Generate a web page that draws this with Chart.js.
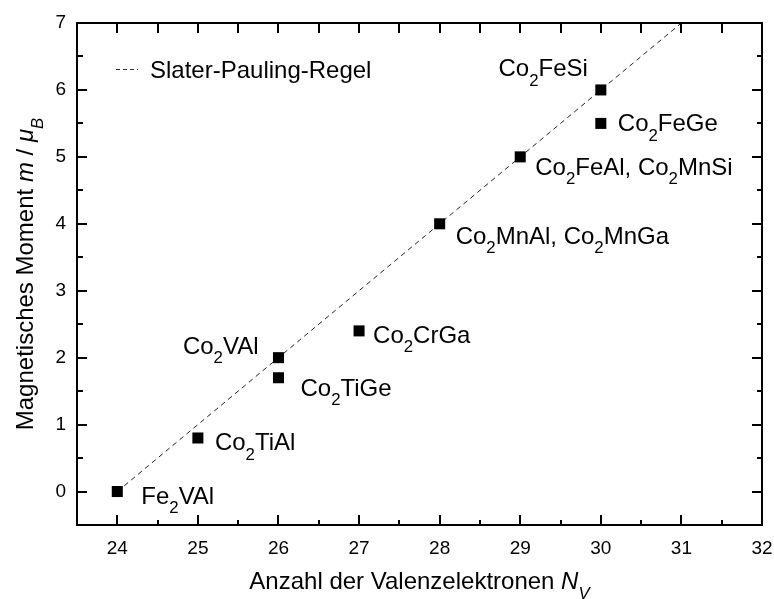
<!DOCTYPE html>
<html>
<head>
<meta charset="utf-8">
<script src="https://cdn.jsdelivr.net/npm/chart.js@4.4.1/dist/chart.umd.min.js"></script>
<style>
  html, body { margin: 0; padding: 0; background: #fff; }
  #wrap { width: 774px; height: 599px; }
</style>
</head>
<body>
<div id="wrap"><canvas id="chart" width="774" height="599"></canvas></div>
<script>
// Heusler compounds: valence electron count vs. magnetic moment
const valenceElectrons = [24, 25, 26, 26, 27, 28, 29, 30, 30];
const magneticMoment   = [0, 0.8, 2, 1.7, 2.4, 4, 5, 6, 5.5];
const compounds = [
  'Fe_2VAl', 'Co_2TiAl', 'Co_2VAl', 'Co_2TiGe', 'Co_2CrGa',
  'Co_2MnAl, Co_2MnGa', 'Co_2FeAl, Co_2MnSi', 'Co_2FeSi', 'Co_2FeGe'
];

// Slater-Pauling rule m = N_V - 24
const slaterPaulingX = [24, 31];
const slaterPaulingY = [0, 7];
const slaterPaulingLabel = 'Slater-Pauling-Regel';

const xTicks = [24, 25, 26, 27, 28, 29, 30, 31, 32];
const yTicks = [0, 1, 2, 3, 4, 5, 6, 7];

// where each compound name sits relative to its marker (px)
const labelPlacement = [
  { dx: 24, dy: 12, align: 'left' },
  { dx: 17, dy: 12, align: 'left' },
  { dx: -20, dy: -4, align: 'right' },
  { dx: 22, dy: 18, align: 'left' },
  { dx: 14, dy: 12, align: 'left' },
  { dx: 16, dy: 20, align: 'left' },
  { dx: 15, dy: 18, align: 'left' },
  { dx: -13, dy: -14, align: 'right' },
  { dx: 17, dy: 8, align: 'left' }
];

const FONT = '"Liberation Sans", Arial, Helvetica, sans-serif';

// "Co_2FeAl" -> runs with the char after "_" as subscript
function parseFormula(str) {
  const parts = str.split(/_(.)/);
  return parts.map((t, i) => ({ t, sub: i % 2 === 1 }));
}

function runFont(r, size) {
  const s = r.sub ? size * 0.7 : size;
  return (r.it ? 'italic ' : '') + s + 'px ' + FONT;
}

function drawRuns(ctx, runs, x, y, align, size) {
  let total = 0;
  runs.forEach(r => { ctx.font = runFont(r, size); total += ctx.measureText(r.t).width; });
  let cx = x;
  if (align === 'right') cx = x - total;
  else if (align === 'center') cx = x - total / 2;
  ctx.textAlign = 'left';
  ctx.textBaseline = 'alphabetic';
  runs.forEach(r => {
    ctx.font = runFont(r, size);
    ctx.fillText(r.t, cx, r.sub ? y + size * 0.4 : y);
    cx += ctx.measureText(r.t).width;
  });
}

const decorations = {
  id: 'decorations',
  afterDraw(chart) {
    const ctx = chart.ctx;
    const a = chart.chartArea;
    const xs = chart.scales.x, ys = chart.scales.y;
    ctx.save();
    ctx.strokeStyle = '#000';
    ctx.fillStyle = '#000';
    ctx.lineWidth = 2;
    ctx.setLineDash([]);
    ctx.strokeRect(a.left, a.top, a.right - a.left, a.bottom - a.top);

    // inward ticks, majors and halfway minors
    ctx.beginPath();
    xTicks.forEach((v, i) => {
      const px = Math.round(xs.getPixelForValue(v));
      ctx.moveTo(px, a.bottom); ctx.lineTo(px, a.bottom - 10);
      ctx.moveTo(px, a.top); ctx.lineTo(px, a.top + 10);
      if (i < xTicks.length - 1) {
        const m = Math.round(xs.getPixelForValue((v + xTicks[i + 1]) / 2));
        ctx.moveTo(m, a.bottom); ctx.lineTo(m, a.bottom - 5);
        ctx.moveTo(m, a.top); ctx.lineTo(m, a.top + 10);
      }
    });
    yTicks.forEach((v, i) => {
      const py = Math.round(ys.getPixelForValue(v));
      ctx.moveTo(a.left, py); ctx.lineTo(a.left + 10, py);
      ctx.moveTo(a.right, py); ctx.lineTo(a.right - 10, py);
      if (i < yTicks.length - 1) {
        const m = Math.round(ys.getPixelForValue((v + yTicks[i + 1]) / 2));
        ctx.moveTo(a.left, m); ctx.lineTo(a.left + 6, m);
        ctx.moveTo(a.right, m); ctx.lineTo(a.right - 5, m);
      }
    });
    ctx.stroke();

    // compound names
    const meta = chart.getDatasetMeta(0);
    meta.data.forEach((pt, i) => {
      const p = labelPlacement[i];
      drawRuns(ctx, parseFormula(compounds[i]), pt.x + p.dx, pt.y + p.dy, p.align, 24);
    });

    // legend
    ctx.lineWidth = 1;
    ctx.strokeStyle = '#333';
    ctx.setLineDash([4, 3]);
    ctx.beginPath();
    ctx.moveTo(116, 69.5); ctx.lineTo(138, 69.5);
    ctx.stroke();
    ctx.setLineDash([]);
    drawRuns(ctx, [{ t: slaterPaulingLabel }], 150, 78, 'left', 24);

    // axis titles
    drawRuns(ctx, [
      { t: 'Anzahl der Valenzelektronen ' },
      { t: 'N', it: true },
      { t: 'V', it: true, sub: true }
    ], (a.left + a.right) / 2, 589, 'center', 24);

    ctx.save();
    ctx.translate(33, (a.top + a.bottom) / 2);
    ctx.rotate(-Math.PI / 2);
    drawRuns(ctx, [
      { t: 'Magnetisches Moment ' },
      { t: 'm', it: true },
      { t: ' / ' },
      { t: '\u03bc', it: true },
      { t: 'B', it: true, sub: true }
    ], 0, 0, 'center', 24);
    ctx.restore();

    ctx.restore();
  }
};

const tickFont = { family: FONT, size: 19 };

new Chart(document.getElementById('chart'), {
  type: 'scatter',
  data: {
    datasets: [
      {
        label: 'Heusler',
        data: valenceElectrons.map((n, i) => ({ x: n, y: magneticMoment[i] })),
        pointStyle: 'rect',
        pointRadius: 7.8,
        pointHoverRadius: 7.8,
        backgroundColor: '#000',
        borderWidth: 0
      },
      {
        label: slaterPaulingLabel,
        data: slaterPaulingX.map((n, i) => ({ x: n, y: slaterPaulingY[i] })),
        showLine: true,
        pointRadius: 0,
        borderColor: '#222',
        borderWidth: 1,
        borderDash: [5, 4]
      }
    ]
  },
  options: {
    responsive: false,
    animation: false,
    devicePixelRatio: 1,
    layout: { padding: { top: 23, right: 12, left: 0, bottom: 0 } },
    plugins: { legend: { display: false }, tooltip: { enabled: false } },
    scales: {
      x: {
        type: 'linear',
        min: 23.5,
        max: 32,
        grid: { display: false, drawTicks: false },
        border: { display: false },
        ticks: { font: tickFont, color: '#000', padding: 12, maxRotation: 0 },
        afterBuildTicks: s => { s.ticks = xTicks.map(v => ({ value: v })); },
        afterFit: s => { s.height = 74; s.paddingLeft = 0; s.paddingRight = 0; }
      },
      y: {
        type: 'linear',
        min: -0.5,
        max: 7,
        grid: { display: false, drawTicks: false },
        border: { display: false },
        ticks: { font: tickFont, color: '#000', padding: 11 },
        afterBuildTicks: s => { s.ticks = yTicks.map(v => ({ value: v })); },
        afterFit: s => { s.width = 77; s.paddingTop = 0; s.paddingBottom = 0; }
      }
    }
  },
  plugins: [decorations]
});
</script>
</body>
</html>
